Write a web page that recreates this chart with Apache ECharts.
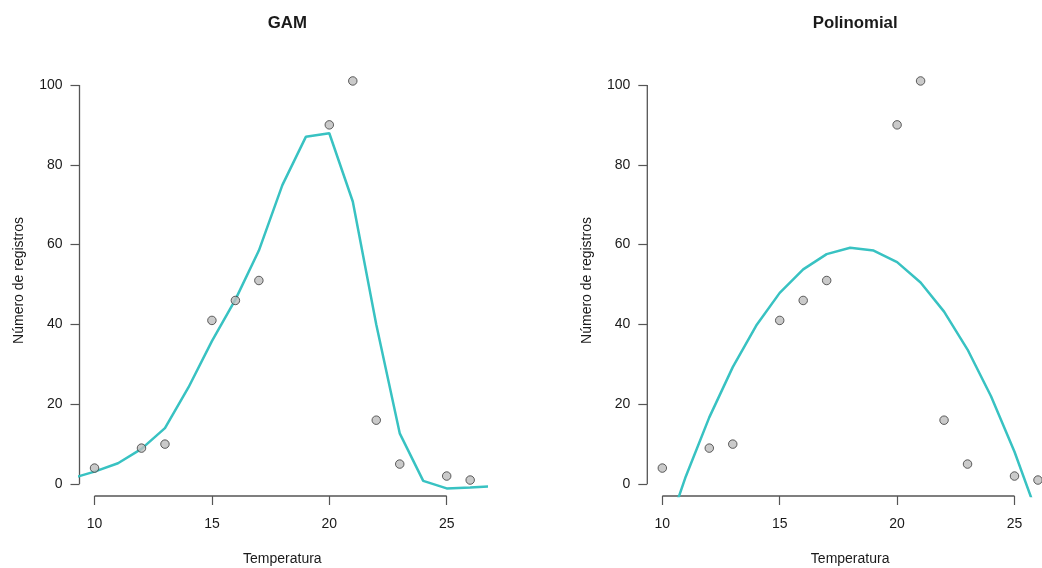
<!DOCTYPE html>
<html>
<head>
<meta charset="utf-8">
<script src="https://cdn.jsdelivr.net/npm/echarts@6/dist/echarts.min.js"></script>
<style>
  html, body { margin: 0; padding: 0; background: #fff; }
  #chart { width: 1042px; height: 568px; }
</style>
</head>
<body>
<div id="chart"></div>
<script>
// Observed data (same in both panels)
const temps  = [10, 12, 13, 15, 16, 17, 20, 21, 22, 23, 25, 26];
const counts = [4, 9, 10, 41, 46, 51, 90, 101, 16, 5, 2, 1];

// GAM fitted curve
const gamX = [9, 10, 11, 12, 13, 14, 15, 16, 17, 18, 19, 20, 21, 22, 23, 24, 25, 26, 27];
const gamY = [1.4, 3.1, 5.2, 8.8, 14.0, 24.2, 35.8, 46.2, 58.5, 74.9, 87.0, 87.9, 70.8, 40.0, 12.7, 0.8, -1.1, -0.9, -0.5];

// Polynomial fitted curve
const polyX = [10, 11, 12, 13, 14, 15, 16, 17, 18, 19, 20, 21, 22, 23, 24, 25, 26];
const polyY = [-15.2, 1.9, 16.7, 29.3, 39.7, 47.9, 53.8, 57.6, 59.2, 58.5, 55.6, 50.5, 43.2, 33.7, 22.0, 8.1, -8.1];

// Axis ticks
const xTicks = [10, 15, 20, 25];
const yTicks = [0, 20, 40, 60, 80, 100];

const titles = ['GAM', 'Polinomial'];
const xTitle = 'Temperatura';
const yTitle = 'Número de registros';

const FONT = '"Liberation Sans", Arial, Helvetica, sans-serif';
const TXT = '#1a1a1a';
const AX = '#555555';
const CURVE = '#38c2c2';

const xMin = 9.36, xMax = 26.64, yMin = -3, yMax = 105;

const grids = [
  { left: 79.5, top: 65, width: 405.7, height: 431, outerBoundsMode: 'none', containLabel: false },
  { left: 647.3, top: 65, width: 405.7, height: 431, outerBoundsMode: 'none', containLabel: false }
];

function zip(a, b) { return a.map((v, i) => [v, b[i]]); }

const xAxes = [], yAxes = [], series = [], titleOpts = [];
grids.forEach((g, i) => {
  xAxes.push({
    type: 'value', gridIndex: i, min: xMin, max: xMax,
    name: xTitle, nameLocation: 'middle', nameGap: 56, nameMoveOverlap: false,
    nameTextStyle: { fontFamily: FONT, fontSize: 14, color: TXT },
    axisLine: { show: false, onZero: false },
    splitLine: { show: false },
    axisTick: { show: true, inside: false, length: 9, customValues: xTicks, lineStyle: { color: AX, width: 1.2 } },
    axisLabel: { customValues: xTicks, margin: 21, fontFamily: FONT, fontSize: 14, color: TXT }
  });
  yAxes.push({
    type: 'value', gridIndex: i, min: yMin, max: yMax,
    name: yTitle, nameLocation: 'middle', nameGap: 53, nameRotate: 90, nameMoveOverlap: false,
    nameTextStyle: { fontFamily: FONT, fontSize: 14, color: TXT },
    axisLine: { show: false, onZero: false },
    splitLine: { show: false },
    axisTick: { show: true, inside: false, length: 9, customValues: yTicks, lineStyle: { color: AX, width: 1.2 } },
    axisLabel: { customValues: yTicks, margin: 17, fontFamily: FONT, fontSize: 14, color: TXT }
  });
  // axis lines spanning first..last tick (R style)
  series.push({
    type: 'line', xAxisIndex: i, yAxisIndex: i, clip: false, silent: true,
    symbol: 'none', lineStyle: { color: AX, width: 1.3 },
    data: [[xTicks[0], yMin], [xTicks[xTicks.length - 1], yMin]]
  });
  series.push({
    type: 'line', xAxisIndex: i, yAxisIndex: i, clip: false, silent: true,
    symbol: 'none', lineStyle: { color: AX, width: 1.3 },
    data: [[xMin, yTicks[0]], [xMin, yTicks[yTicks.length - 1]]]
  });
  series.push({
    type: 'line', xAxisIndex: i, yAxisIndex: i, clip: true, silent: true,
    symbol: 'none', smooth: false,
    lineStyle: { color: CURVE, width: 2.5 },
    data: i === 0 ? zip(gamX, gamY) : zip(polyX, polyY),
    z: 3
  });
  series.push({
    type: 'scatter', xAxisIndex: i, yAxisIndex: i, symbol: 'circle', symbolSize: 8.5,
    itemStyle: { color: '#bdbdbd', borderColor: '#3a3a3a', borderWidth: 1 },
    data: zip(temps, counts), z: 4
  });
  titleOpts.push({
    text: titles[i], left: g.left + g.width / 2, top: 10, textAlign: 'center',
    textStyle: { fontFamily: FONT, fontSize: 16.8, fontWeight: 'bold', color: TXT }
  });
});

const chart = echarts.init(document.getElementById('chart'), null, { renderer: 'canvas' });
chart.setOption({
  animation: false,
  backgroundColor: '#ffffff',
  title: titleOpts,
  grid: grids,
  xAxis: xAxes,
  yAxis: yAxes,
  series: series
});
</script>
</body>
</html>
